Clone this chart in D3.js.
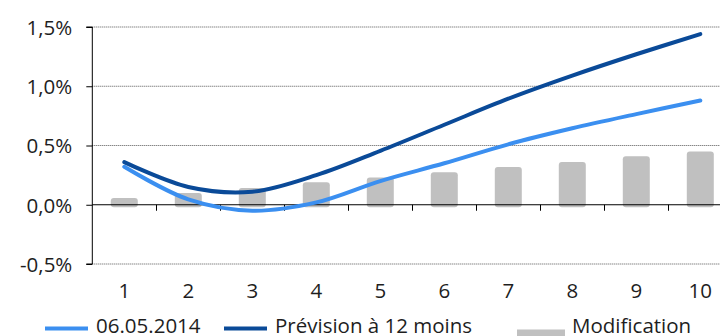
<!DOCTYPE html>
<html>
<head>
<meta charset="utf-8">
<script src="https://cdn.jsdelivr.net/npm/d3@7"></script>
<style>
  html, body { margin: 0; padding: 0; background: #fff; }
  svg { display: block; }
  text { font-family: "Open Sans", "Noto Sans", sans-serif; fill: #1e1e1e; }
</style>
</head>
<body>
<svg id="chart" width="720" height="336"></svg>
<script>
// Horizon in years
const years = [1, 2, 3, 4, 5, 6, 7, 8, 9, 10];
// Yield curve on 06.05.2014 (%)
const current = [0.32, 0.045, -0.05, 0.02, 0.20, 0.35, 0.51, 0.645, 0.765, 0.88];
// 12-month forecast (%)
const forecast = [0.36, 0.15, 0.11, 0.25, 0.455, 0.675, 0.895, 1.09, 1.27, 1.44];
// Change (%)
const change = [0.057, 0.10, 0.142, 0.19, 0.23, 0.275, 0.318, 0.36, 0.41, 0.45];
const yTicks = [-0.5, 0, 0.5, 1.0, 1.5];
const legendLabels = ["06.05.2014", "Prévision à 12 moins", "Modification"];

const colors = { current: "#3b8ff0", forecast: "#0a4a98", bar: "#c0c0c0" };
const fontSize = "20.5px";

const svg = d3.select("#chart");
const plotLeft = 92.3, plotRight = 720, plotTop = 27, plotBottom = 264;

const x = d3.scaleBand().domain(years).range([plotLeft, plotLeft + 640]).padding(0);
const y = d3.scaleLinear().domain([-0.5, 1.5]).range([plotBottom, plotTop]);
const cx = d => x(d) + x.bandwidth() / 2;

// French style percent labels with a plain hyphen for negatives
const fmt = v => (v < 0 ? "-" : "") + Math.abs(v).toFixed(1).replace(".", ",") + "%";

// dotted gridlines
svg.append("g").selectAll("line")
  .data(yTicks.filter(v => v !== 0))
  .join("line")
  .attr("x1", plotLeft).attr("x2", plotRight)
  .attr("y1", d => y(d)).attr("y2", d => y(d))
  .attr("stroke", "#555").attr("stroke-width", 1)
  .attr("stroke-dasharray", "1,1");

// bars
svg.append("g").selectAll("rect")
  .data(years)
  .join("rect")
  .attr("x", (d) => cx(d) - 13.5)
  .attr("width", 27)
  .attr("y", (d, i) => y(change[i]))
  .attr("height", (d, i) => y(0) - y(change[i]) + 2.5)
  .attr("rx", 3).attr("ry", 3)
  .attr("fill", colors.bar);

// y axis
const yAxis = d3.axisLeft(y).tickValues(yTicks).tickSize(6).tickPadding(14).tickFormat(fmt);
const gy = svg.append("g").attr("transform", `translate(${plotLeft},0)`).call(yAxis);
gy.select(".domain").attr("stroke", "#000").attr("d", `M-6,${plotTop}H0V${plotBottom}H-6`);
gy.selectAll(".tick line").attr("stroke", "#000");
gy.selectAll(".tick text").style("font-size", fontSize).style("font-family", null)
  .attr("fill", "#1e1e1e").attr("dy", "0.36em");
gy.attr("font-family", null);

// zero axis with ticks at category boundaries
svg.append("line")
  .attr("x1", plotLeft).attr("x2", plotRight)
  .attr("y1", y(0)).attr("y2", y(0))
  .attr("stroke", "#000").attr("stroke-width", 1);
svg.append("g").selectAll("line")
  .data(years.slice(1))
  .join("line")
  .attr("x1", d => Math.round(x(d)) + 0.5).attr("x2", d => Math.round(x(d)) + 0.5)
  .attr("y1", y(0)).attr("y2", y(0) + 6)
  .attr("stroke", "#000");

// x labels
svg.append("g").selectAll("text")
  .data(years)
  .join("text")
  .attr("x", d => cx(d))
  .attr("y", 298)
  .attr("text-anchor", "middle")
  .style("font-size", fontSize)
  .text(d => d);

// smoothed lines
const line = d3.line().x((d, i) => cx(years[i])).y(d => y(d)).curve(d3.curveCatmullRom.alpha(0.5));
[[current, colors.current], [forecast, colors.forecast]].forEach(([data, c]) => {
  svg.append("path")
    .datum(data)
    .attr("d", line)
    .attr("fill", "none")
    .attr("stroke", c)
    .attr("stroke-width", 4)
    .attr("stroke-linecap", "round")
    .attr("stroke-linejoin", "round");
});

// legend
const lg = svg.append("g");
lg.append("line").attr("x1", 45).attr("x2", 88).attr("y1", 328.5).attr("y2", 328.5)
  .attr("stroke", colors.current).attr("stroke-width", 4);
lg.append("text").attr("x", 96).attr("y", 333).style("font-size", fontSize).text(legendLabels[0]);
lg.append("line").attr("x1", 224).attr("x2", 267).attr("y1", 328.5).attr("y2", 328.5)
  .attr("stroke", colors.forecast).attr("stroke-width", 4);
lg.append("text").attr("x", 275).attr("y", 333).style("font-size", fontSize).text(legendLabels[1]);
lg.append("rect").attr("x", 517).attr("y", 329.5).attr("width", 48).attr("height", 8)
  .attr("fill", colors.bar);
lg.append("text").attr("x", 572).attr("y", 333).style("font-size", fontSize).text(legendLabels[2]);
</script>
</body>
</html>
